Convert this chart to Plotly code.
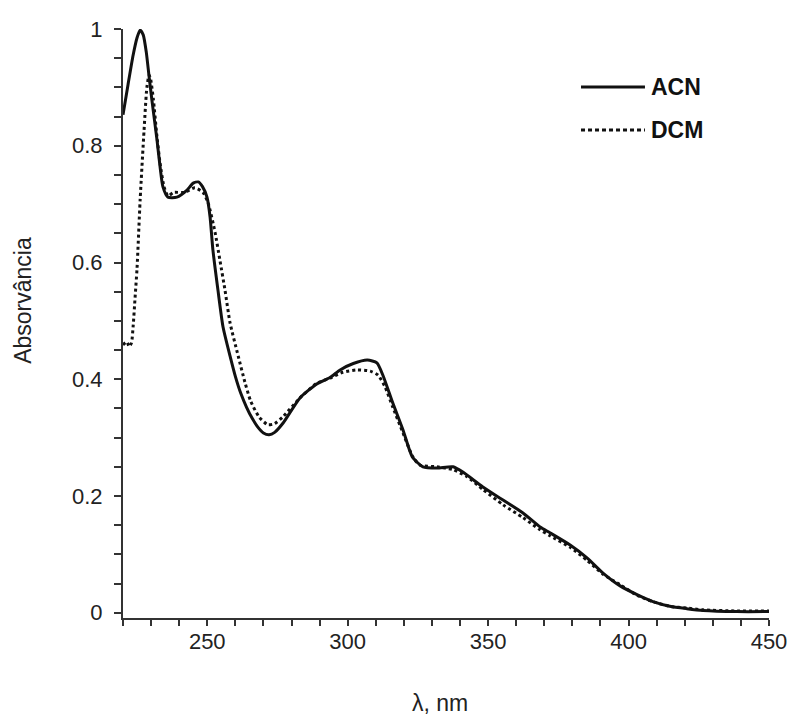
import plotly.graph_objects as go

# ---- data ----
acn_nm = [220, 221.8, 223.6, 225, 226.1, 227.2, 228.3, 229.3, 230.3, 232.1, 233.2, 234.2,
          236, 239.2, 242.8, 245, 246.8, 248.3, 249.9, 251, 252, 253.8, 255.6, 258.1,
          260, 262, 264, 266, 268, 270, 272, 274, 277, 283, 289, 293.7, 297.3, 302, 307, 310.4,
          312.6, 316, 319.7, 323, 326.8, 331.8, 337.5, 341, 348, 355.3, 362.4, 368.5,
          372, 379.2, 385.2, 390.9, 397, 403, 408.7, 414.7, 420.7, 426.5, 438.6, 450]
acn_abs = [0.853, 0.905, 0.955, 0.985, 0.998, 0.99, 0.96, 0.918, 0.878, 0.81, 0.764, 0.73,
           0.712, 0.712, 0.724, 0.736, 0.738, 0.73, 0.712, 0.678, 0.622, 0.553, 0.49, 0.44,
           0.405, 0.375, 0.352, 0.333, 0.318, 0.308, 0.305, 0.309, 0.325, 0.368, 0.392, 0.403, 0.416,
           0.427, 0.433, 0.428,
           0.406, 0.36, 0.313, 0.267, 0.25, 0.248, 0.25, 0.241, 0.216, 0.193, 0.171, 0.147,
           0.137, 0.116, 0.094, 0.068, 0.046, 0.031, 0.019, 0.011, 0.007, 0.004, 0.002, 0.002]

dcm_nm = [220, 221.4, 222.2, 223.0, 223.6, 224.3, 225, 226.1, 227.5, 228.5, 229.3, 229.8,
          230.8, 232, 233.2, 234.6, 236, 238, 242, 245.6, 248.5, 250.3, 252.8, 254.5, 256.3,
          258.1, 261, 263.4, 265.5, 268.5, 271.6, 274, 277, 283, 289, 293.7, 298.3, 303.3,
          308, 310.8, 313.3, 316, 319.7, 323.2, 325.7, 331.8, 337.5, 342.5, 348.2, 355.3,
          362.4, 368.5, 372, 379.2, 385.2, 390.9, 397, 403, 408.7, 414.7, 420.7, 426.5,
          438.6, 450]
dcm_abs = [0.459, 0.464, 0.456, 0.462, 0.49, 0.54, 0.59, 0.707, 0.827, 0.9, 0.921, 0.915,
           0.88, 0.82, 0.77, 0.73, 0.714, 0.72, 0.72, 0.728, 0.72, 0.702, 0.651, 0.604, 0.553,
           0.497, 0.44, 0.395, 0.362, 0.335, 0.322, 0.324, 0.336, 0.368, 0.393, 0.402, 0.412, 0.416,
           0.414, 0.407, 0.387, 0.353, 0.308, 0.267, 0.253, 0.25, 0.245, 0.233, 0.211, 0.185,
           0.163, 0.142, 0.132, 0.112, 0.09, 0.066, 0.048, 0.03, 0.019, 0.011, 0.008, 0.005,
           0.003, 0.003]

series_names = ["ACN", "DCM"]
x_ticks = [250, 300, 350, 400, 450]
y_ticks = [0, 0.2, 0.4, 0.6, 0.8, 1.0]
y_tick_labels = ["0", "0.2", "0.4", "0.6", "0.8", "1"]

FONT = "Liberation Sans, Arial, sans-serif"
TXT = "#222222"
AX = "#333333"

fig = go.Figure()
fig.add_trace(go.Scatter(x=acn_nm, y=acn_abs, mode="lines", name=series_names[0],
                         line=dict(color="#111111", width=3, shape="spline", smoothing=0.6),
                         showlegend=False))
fig.add_trace(go.Scatter(x=dcm_nm, y=dcm_abs, mode="lines", name=series_names[1],
                         line=dict(color="#111111", width=3, dash="dot", shape="spline", smoothing=0.6),
                         showlegend=False))

# legend drawn manually to match the reference layout
leg = [(series_names[0], "solid", 0.9015), (series_names[1], "4px,3px", 0.8285)]
for name, dash, yy in leg:
    fig.add_shape(type="line", xref="paper", yref="paper", x0=0.709, x1=0.808, y0=yy, y1=yy,
                  line=dict(color="#111111", width=3, dash=dash))
    fig.add_annotation(xref="paper", yref="paper", x=0.815, y=yy, text="<b>%s</b>" % name,
                       showarrow=False, xanchor="left", yanchor="middle",
                       font=dict(family=FONT, size=23, color="#111111"))

fig.add_annotation(xref="paper", yref="paper", x=-0.155, y=0.54, text="Absorvância",
                   textangle=-90, showarrow=False, xanchor="center", yanchor="middle",
                   font=dict(family=FONT, size=23, color=TXT))
fig.add_annotation(xref="paper", yref="paper", x=0.49, y=-0.144, text="λ, nm",
                   showarrow=False, xanchor="center", yanchor="middle",
                   font=dict(family=FONT, size=23, color=TXT))

fig.update_xaxes(range=[220, 450], tickvals=x_ticks, ticktext=[str(v) for v in x_ticks],
                 ticks="", showline=True, linecolor=AX, linewidth=2, showgrid=False, zeroline=False,
                 tickfont=dict(family=FONT, size=22, color=TXT), ticklabelstandoff=3,
                 minor=dict(ticks="outside", ticklen=6, tickwidth=1.5, tickcolor=AX,
                            tick0=220, dtick=10, showgrid=False))
fig.update_yaxes(range=[-0.009, 1.0], tickvals=y_ticks, ticktext=y_tick_labels,
                 ticks="", showline=True, linecolor=AX, linewidth=2, showgrid=False, zeroline=False,
                 tickfont=dict(family=FONT, size=22, color=TXT), ticklabelstandoff=14,
                 minor=dict(ticks="outside", ticklen=7, tickwidth=1.5, tickcolor=AX,
                            tick0=0, dtick=0.05, showgrid=False))

fig.update_layout(width=791, height=722, plot_bgcolor="white", paper_bgcolor="white",
                  margin=dict(l=123, r=22, t=29, b=104, autoexpand=False),
                  font=dict(family=FONT, color=TXT))

fig.write_html("out.html")
